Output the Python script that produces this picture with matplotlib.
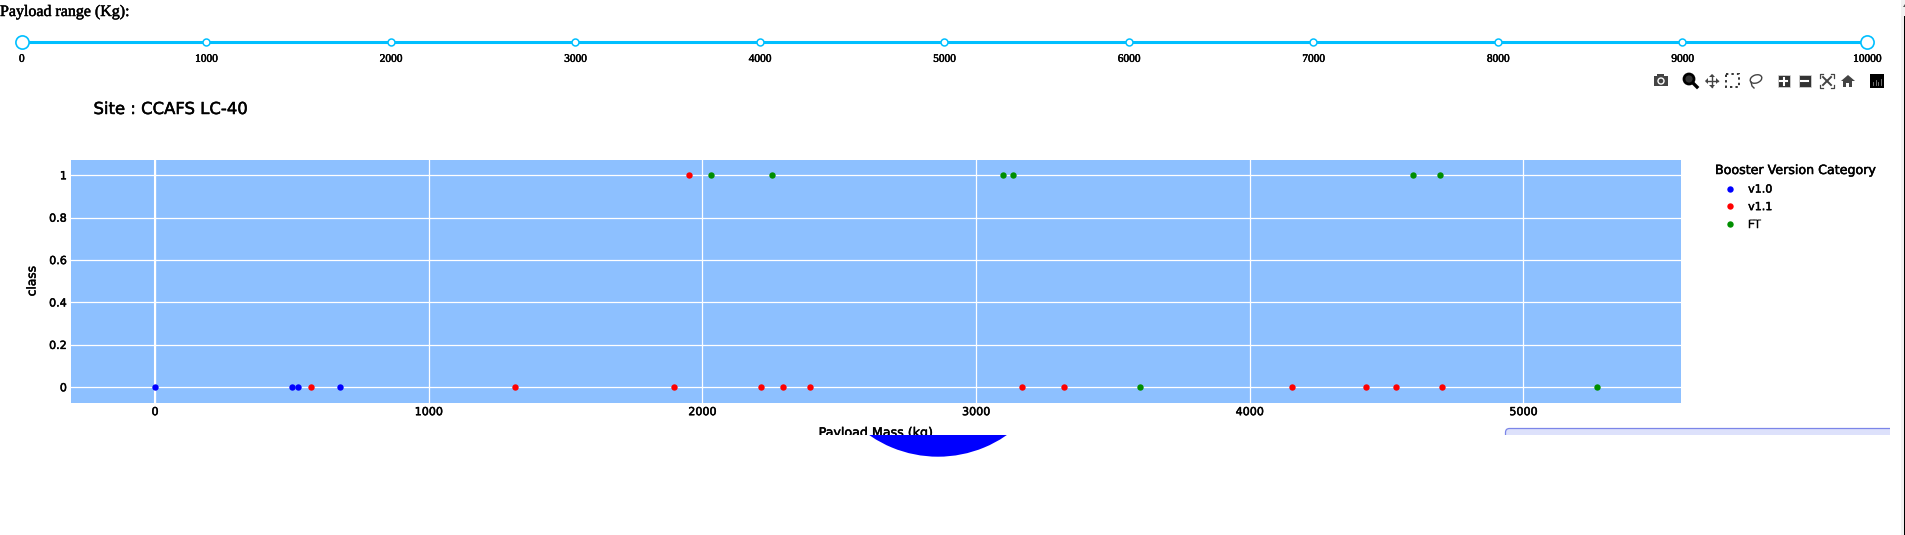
import matplotlib
matplotlib.use('Agg')
import matplotlib.pyplot as plt
import matplotlib.patheffects as pe
from matplotlib.patches import Rectangle, Circle, FancyBboxPatch, Ellipse, Polygon

W, H = 1906, 535

# payload (kg), class per booster version
v10_payload = [0, 499, 524, 676]
v10_class = [0, 0, 0, 0]
v11_payload = [569, 1314, 1896, 1951, 2214, 2295, 2393, 3168, 3323, 4156, 4426, 4533, 4704]
v11_class = [0, 0, 0, 1, 0, 0, 0, 0, 0, 0, 0, 0, 0]
ft_payload = [2033, 2256, 3098, 3135, 3598, 4598, 4694, 5269]
ft_class = [1, 1, 1, 1, 0, 1, 1, 0]

x_ticks = [0, 1000, 2000, 3000, 4000, 5000]
y_ticks = [0, 0.2, 0.4, 0.6, 0.8, 1]
y_labels = ['0', '0.2', '0.4', '0.6', '0.8', '1']
slider_marks = [0, 1000, 2000, 3000, 4000, 5000, 6000, 7000, 8000, 9000, 10000]
slider_range = [0, 10000]
pie_values = [1]

# thin stroke, the page text is heavier than plain antialiased text
heavy = [pe.withStroke(linewidth=0.35, foreground='black')]


def px_axes(fig, x0, y0, x1, y1, **kw):
    return fig.add_axes([x0 / W, 1 - y1 / H, (x1 - x0) / W, (y1 - y0) / H], **kw)


fig = plt.figure(figsize=(W / 100, H / 100), dpi=100, facecolor='white')

# main scatter
ax = px_axes(fig, 71, 160, 1681, 403, facecolor='#8dc0ff')
ax.grid(color='white', lw=0.9)
ax.set_axisbelow(True)
ax.axvline(0, color='white', lw=1.5, zorder=1)
ax.plot(v10_payload, v10_class, 'o', color='#0000ff', ms=4.6, mew=0, label='v1.0')
ax.plot(v11_payload, v11_class, 'o', color='#ff0000', ms=4.6, mew=0, label='v1.1')
ax.plot(ft_payload, ft_class, 'o', color='#008f00', ms=4.6, mew=0, label='FT')
ax.set_xlim(-307, 5576)
ax.set_ylim(-0.074, 1.072)
ax.set_xticks(x_ticks)
ax.set_yticks(y_ticks)
ax.set_yticklabels(y_labels)
ax.tick_params(length=0, labelsize=8, pad=3, labelcolor='black')
for lab in ax.get_xticklabels() + ax.get_yticklabels():
    lab.set_path_effects(heavy)
for s in ax.spines.values():
    s.set_visible(False)
leg = ax.legend(loc='upper left', bbox_to_anchor=(1715 / W, 1 - 164 / H), bbox_transform=fig.transFigure,
                title='Booster Version Category', frameon=False, fontsize=8, title_fontsize=9.1,
                alignment='left', borderpad=0, borderaxespad=0, labelspacing=0.68, handletextpad=0.3,
                handlelength=2.68, labelcolor='black')
for t in leg.get_texts() + [leg.get_title()]:
    t.set_path_effects(heavy)

# range slider
sl = px_axes(fig, 21.7, 31, 1867, 52)
sl.set_xlim(slider_range)
sl.set_ylim(-1, 1)
sl.plot(slider_range, [0, 0], color='#00bfff', lw=2.2, zorder=1, clip_on=False)
sl.plot(slider_marks, [0] * len(slider_marks), 'o', mfc='white', mec='#00bfff', ms=5, mew=1.1,
        zorder=2, clip_on=False)
sl.plot(slider_range, [0, 0], 'o', mfc='white', mec='#00bfff', ms=9.5, mew=1.2, zorder=3, clip_on=False)
sl.set_xticks(slider_marks)
sl.set_yticks([])
sl.tick_params(length=0, labelsize=8.2, pad=2, labelfontfamily='Liberation Serif')
for lab in sl.get_xticklabels():
    lab.set_path_effects(heavy)
for s in sl.spines.values():
    s.set_visible(False)
sl.patch.set_alpha(0)

# overlay in pixels for the page parts
ov = px_axes(fig, 0, 0, W, H, zorder=5)
ov.set_xlim(0, W)
ov.set_ylim(H, 0)
ov.axis('off')
ov.patch.set_alpha(0)

ov.text(0, 12, 'Payload range (Kg):', family='Liberation Serif', fontsize=11.5, va='center', ha='left',
        color='black', path_effects=heavy)
ov.text(93.5, 109.5, 'Site : CCAFS LC-40', fontsize=11.85, va='center', ha='left', color='black', path_effects=heavy)
ov.text(32, 281, 'class', fontsize=8.8, rotation=90, va='center', ha='center', color='black', path_effects=heavy)

clip_top = Rectangle((0, 0), W, 435, transform=ov.transData)
xl = ov.text(876, 433, 'Payload Mass (kg)', fontsize=9.1, va='center', ha='center', color='black', path_effects=heavy)
xl.set_clip_path(clip_top)
xl.set_clip_on(True)

# rounded box cut off at the bottom and right
box = FancyBboxPatch((1505.5, 428.5), 420, 40, boxstyle='round,pad=0,rounding_size=4',
                     fc='#dde1fb', ec='#7b85e8', lw=0.9)
ov.add_patch(box)
box.set_clip_path(Rectangle((1504, 425), 386, 10, transform=ov.transData))

# pie below, only its lower edge shows
pa = px_axes(fig, 817.5, 215.7, 1058.5, 456.7, zorder=4)
wedges, _ = pa.pie(pie_values, colors=['#0000ff'], radius=1, startangle=90)
pa.set_xlim(-1, 1)
pa.set_ylim(-1, 1)
for wd in wedges:
    wd.set_clip_on(True)
    wd.set_clip_path(Rectangle((0, 435), W, 100, transform=ov.transData))

# modebar icons
g = '#444444'
cy = 81
# camera
ov.add_patch(Rectangle((1654, cy - 5), 14, 10, fc=g, ec='none'))
ov.add_patch(Rectangle((1657, cy - 7), 7, 3, fc=g, ec='none'))
ov.add_patch(Circle((1661, cy), 3, fc=g, ec='white', lw=1))
# zoom
ov.add_patch(Circle((1689, cy - 2), 5, fc='#333333', ec='black', lw=2))
ov.plot([1693, 1697], [cy + 2, cy + 6], color='black', lw=2.4)
# pan
ov.plot([1706, 1718], [cy, cy], color=g, lw=1)
ov.plot([1712, 1712], [cy - 6, cy + 6], color=g, lw=1)
for pts in ([(1705, cy), (1708, cy - 3), (1708, cy + 3)], [(1719, cy), (1716, cy - 3), (1716, cy + 3)],
            [(1712, cy - 7), (1709, cy - 4), (1715, cy - 4)], [(1712, cy + 7), (1709, cy + 4), (1715, cy + 4)]):
    ov.add_patch(Polygon(pts, fc=g, ec='none'))
# box select
ov.add_patch(Rectangle((1726.5, cy - 7), 13, 13, fc='none', ec='#333333', lw=1.4, ls=(0, (1.2, 1.6))))
# lasso
ov.add_patch(Ellipse((1756, cy - 2), 12, 8, angle=-20, fc='none', ec=g, lw=1))
ov.plot([1751, 1752, 1754], [cy + 1, cy + 5, cy + 7], color=g, lw=1)
# plus and minus
ov.add_patch(Rectangle((1778, cy - 6), 12, 12, fc='#333333', ec='#dddddd', lw=0.5))
ov.plot([1780.5, 1787.5], [cy, cy], color='white', lw=1.5)
ov.plot([1784, 1784], [cy - 3.5, cy + 3.5], color='white', lw=1.5)
ov.add_patch(Rectangle((1799, cy - 6), 12, 12, fc='#333333', ec='#dddddd', lw=0.5))
ov.plot([1801.5, 1808.5], [cy, cy], color='white', lw=1.5)
# autoscale
for sx in (-1, 1):
    for sy in (-1, 1):
        ov.plot([1827 + sx * 7, 1827 + sx * 7, 1827 + sx * 4], [cy + sy * 3.5, cy + sy * 7, cy + sy * 7], color=g, lw=0.9)
        ov.plot([1827, 1827 + sx * 4], [cy, cy + sy * 4], color=g, lw=1.4)
# home
ov.add_patch(Polygon([(1841, cy), (1848, cy - 6), (1855, cy)], fc=g, ec='none'))
ov.add_patch(Rectangle((1843.5, cy), 9, 6, fc=g, ec='none'))
ov.add_patch(Rectangle((1846.5, cy + 2), 3, 4, fc='white', ec='none'))
# logo
ov.add_patch(Rectangle((1870, cy - 7), 14, 14, fc='black', ec='none'))
for bx, bh in zip((1873.5, 1876, 1878.5, 1881), (3, 5, 3, 6)):
    ov.plot([bx, bx], [cy + 4, cy + 4 - bh], color='#888888', lw=0.6)

# page scrollbar
ov.add_patch(Rectangle((1901, 0), 5, H, fc='#f1f1f1', ec='none'))
ov.add_patch(Rectangle((1904, 16), 2, H - 16, fc='black', ec='none'))
ov.add_patch(Polygon([(1905, 4), (1903, 7), (1906, 7)], fc='#505050', ec='none'))

fig.savefig('out.png', dpi=100, facecolor='white')
